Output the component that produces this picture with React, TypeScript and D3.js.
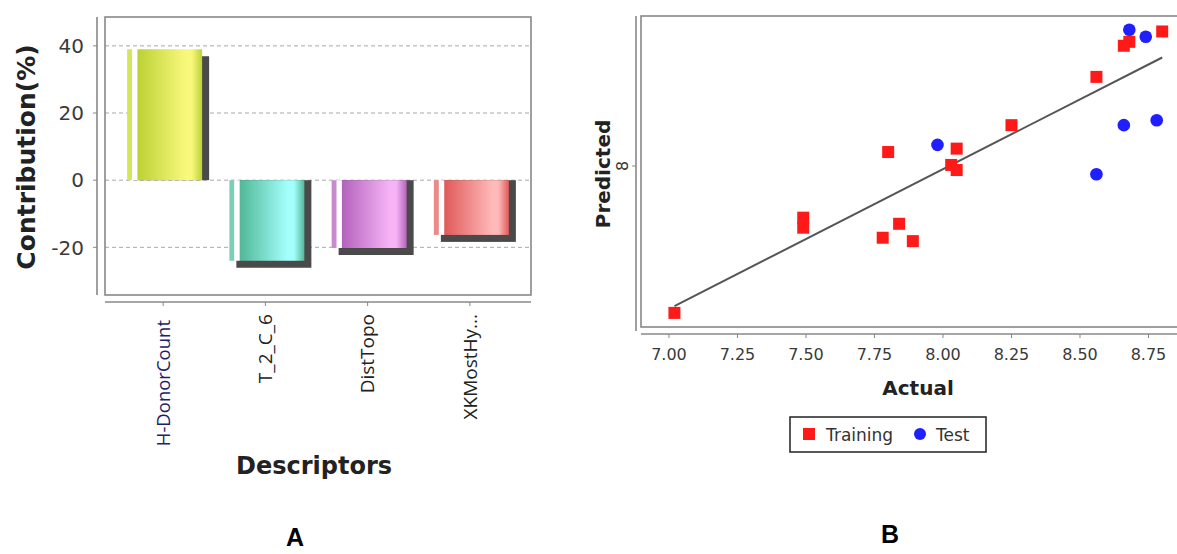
import * as d3 from 'd3';
import { useEffect, useRef } from 'react';

// Panel A: descriptor contributions
const descriptors = ['H-DonorCount', 'T_2_C_6', 'DistTopo', 'XKMostHy...'];
const contributions = [39.0, -24.0, -20.2, -16.3];
const contributionTicks = [-20, 0, 20, 40];

// Panel B: actual vs predicted
const trainingActual = [7.02, 7.49, 7.49, 7.8, 7.78, 7.84, 7.89, 8.03, 8.05, 8.05, 8.25, 8.56, 8.66, 8.68, 8.8];
const trainingPredicted = [7.136, 7.696, 7.637, 8.082, 7.578, 7.66, 7.558, 8.006, 8.102, 7.976, 8.24, 8.524, 8.707, 8.73, 8.791];
const testActual = [7.98, 8.56, 8.66, 8.68, 8.74, 8.78];
const testPredicted = [8.124, 7.951, 8.24, 8.801, 8.76, 8.269];
const fitActual = [7.02, 8.8];
const fitPredicted = [7.176, 8.638];
const actualTicks = [7.0, 7.25, 7.5, 7.75, 8.0, 8.25, 8.5, 8.75];
const predictedTicks = [8];

const barBase = ['#bcd234', '#52b898', '#b463bd', '#e05a5a'];
const barLight = ['#f8f87c', '#a4fffc', '#f6b4f6', '#ffb9b9'];
const barStrip = ['#d4e65a', '#7ccfb6', '#c98ad0', '#ec8a8a'];

const W = 1177;
const H = 554;
const axisGrey = '#888';
const sans = 'DejaVu Sans, sans-serif';

export default function App() {
    const svgRef = useRef(null);

    useEffect(() => {
        const svg = d3.select(svgRef.current);
        svg.selectAll('*').remove();
        const defs = svg.append('defs');

        // ---------- A ----------
        const box = { left: 105, top: 17, right: 531, bottom: 295 };
        const x = d3.scaleBand().domain(descriptors).range([112, 521]);
        const y = d3.scaleLinear().domain([-34.2, 48.6]).range([box.bottom, box.top]);
        const cx = (d) => x(d) + x.bandwidth() / 2;

        const a = svg.append('g');

        // grid
        a.selectAll('.grid')
            .data(contributionTicks)
            .join('line')
            .attr('x1', box.left)
            .attr('x2', box.right)
            .attr('y1', (d) => y(d))
            .attr('y2', (d) => y(d))
            .attr('stroke', '#a8a8a8')
            .attr('stroke-dasharray', '4,3');

        descriptors.forEach((name, i) => {
            const v = contributions[i];
            const x0 = cx(name) - 36;
            const bw = 75;
            const yTop = y(Math.max(v, 0));
            const yBot = y(Math.min(v, 0));
            const off = 7;

            const g = defs
                .append('linearGradient')
                .attr('id', `bar${i}`)
                .attr('x1', 0)
                .attr('x2', 1)
                .attr('y1', 0)
                .attr('y2', 0);
            [
                [0, barStrip[i]],
                [0.06, barStrip[i]],
                [0.07, '#ffffff'],
                [0.13, '#ffffff'],
                [0.145, barBase[i]],
                [0.78, barLight[i]],
                [0.86, barLight[i]],
                [1, barBase[i]],
            ].forEach(([o, c]) => g.append('stop').attr('offset', o).attr('stop-color', c));

            // shadow, clipped at the zero line
            const sTop = v >= 0 ? yTop + off : y(0);
            const sBot = v >= 0 ? y(0) : yBot + off;
            a.append('rect')
                .attr('x', x0 + off)
                .attr('y', sTop)
                .attr('width', bw)
                .attr('height', sBot - sTop)
                .attr('fill', '#4a4a4a');

            a.append('rect')
                .attr('x', x0)
                .attr('y', yTop)
                .attr('width', bw)
                .attr('height', yBot - yTop)
                .attr('fill', `url(#bar${i})`);
        });

        // box + axes
        a.append('rect')
            .attr('x', box.left)
            .attr('y', box.top)
            .attr('width', box.right - box.left)
            .attr('height', box.bottom - box.top)
            .attr('fill', 'none')
            .attr('stroke', axisGrey)
            .attr('stroke-width', 1.6);
        a.append('line')
            .attr('x1', 97).attr('x2', 97)
            .attr('y1', box.top).attr('y2', box.bottom)
            .attr('stroke', axisGrey).attr('stroke-width', 1.6);
        a.append('line')
            .attr('x1', box.left).attr('x2', box.right)
            .attr('y1', 302).attr('y2', 302)
            .attr('stroke', axisGrey).attr('stroke-width', 1.6);

        contributionTicks.forEach((t) => {
            a.append('line')
                .attr('x1', 93).attr('x2', 97)
                .attr('y1', y(t)).attr('y2', y(t))
                .attr('stroke', axisGrey);
            a.append('text')
                .attr('x', 84)
                .attr('y', y(t))
                .attr('dy', '0.36em')
                .attr('text-anchor', 'end')
                .attr('font-family', sans)
                .attr('font-size', 20)
                .attr('fill', '#3a3a3a')
                .text(t);
        });

        descriptors.forEach((name, i) => {
            a.append('line')
                .attr('x1', cx(name)).attr('x2', cx(name))
                .attr('y1', 302).attr('y2', 306)
                .attr('stroke', axisGrey);
            a.append('text')
                .attr('transform', `translate(${cx(name)},${i === 0 ? 320 : 314}) rotate(-90)`)
                .attr('dy', '0.35em')
                .attr('text-anchor', 'end')
                .attr('font-family', 'Open Sans, sans-serif')
                .attr('font-size', i === 0 ? 18.5 : 19)
                .attr('font-weight', 500)
                .attr('fill', i === 0 ? '#1c2266' : '#222')
                .text(name);
        });

        a.append('text')
            .attr('transform', 'translate(35,157) rotate(-90)')
            .attr('text-anchor', 'middle')
            .attr('font-family', sans)
            .attr('font-weight', 'bold')
            .attr('font-size', 25)
            .attr('fill', '#222')
            .text('Contribution(%)');
        a.append('text')
            .attr('x', 314)
            .attr('y', 474)
            .attr('text-anchor', 'middle')
            .attr('font-family', sans)
            .attr('font-weight', 'bold')
            .attr('font-size', 24)
            .attr('fill', '#222')
            .text('Descriptors');
        a.append('text')
            .attr('x', 295)
            .attr('y', 546)
            .attr('text-anchor', 'middle')
            .attr('font-family', 'Liberation Sans, sans-serif')
            .attr('font-weight', 'bold')
            .attr('font-size', 25)
            .text('A');

        // ---------- B ----------
        const bx = d3.scaleLinear().domain([6.898, 9.0]).range([641, 1217]);
        const by = d3.scaleLinear().domain([7.053, 8.882]).range([327, 16]);
        const b = svg.append('g');

        b.append('rect')
            .attr('x', 641).attr('y', 16)
            .attr('width', 640).attr('height', 311)
            .attr('fill', 'none')
            .attr('stroke', axisGrey)
            .attr('stroke-width', 1.6);
        b.append('line')
            .attr('x1', 636).attr('x2', 636)
            .attr('y1', 16).attr('y2', 331)
            .attr('stroke', axisGrey).attr('stroke-width', 1.6);
        b.append('line')
            .attr('x1', 641).attr('x2', W)
            .attr('y1', 334).attr('y2', 334)
            .attr('stroke', axisGrey).attr('stroke-width', 1.6);

        actualTicks.forEach((t) => {
            b.append('line')
                .attr('x1', bx(t)).attr('x2', bx(t))
                .attr('y1', 334).attr('y2', 338)
                .attr('stroke', axisGrey);
            b.append('text')
                .attr('x', bx(t))
                .attr('y', 360)
                .attr('text-anchor', 'middle')
                .attr('font-family', sans)
                .attr('font-size', 16)
                .attr('fill', '#3a3a3a')
                .text(t.toFixed(2));
        });
        predictedTicks.forEach((t) => {
            b.append('line')
                .attr('x1', 632).attr('x2', 636)
                .attr('y1', by(t)).attr('y2', by(t))
                .attr('stroke', axisGrey);
            b.append('text')
                .attr('transform', `translate(628,${by(t)}) rotate(-90)`)
                .attr('text-anchor', 'middle')
                .attr('font-family', sans)
                .attr('font-size', 16)
                .attr('fill', '#3a3a3a')
                .text(t);
        });

        const line = d3
            .line()
            .x((d) => bx(d[0]))
            .y((d) => by(d[1]));
        b.append('path')
            .datum(fitActual.map((v, i) => [v, fitPredicted[i]]))
            .attr('d', line)
            .attr('fill', 'none')
            .attr('stroke', '#555')
            .attr('stroke-width', 2);

        b.selectAll('.train')
            .data(trainingActual.map((v, i) => [v, trainingPredicted[i]]))
            .join('rect')
            .attr('x', (d) => bx(d[0]) - 6)
            .attr('y', (d) => by(d[1]) - 6)
            .attr('width', 12)
            .attr('height', 12)
            .attr('fill', '#ff1a1a');
        b.selectAll('.test')
            .data(testActual.map((v, i) => [v, testPredicted[i]]))
            .join('circle')
            .attr('cx', (d) => bx(d[0]))
            .attr('cy', (d) => by(d[1]))
            .attr('r', 6.3)
            .attr('fill', '#1f1fff');

        b.append('text')
            .attr('transform', 'translate(610,174) rotate(-90)')
            .attr('text-anchor', 'middle')
            .attr('font-family', sans)
            .attr('font-weight', 'bold')
            .attr('font-size', 20)
            .attr('fill', '#222')
            .text('Predicted');
        b.append('text')
            .attr('x', 918)
            .attr('y', 395)
            .attr('text-anchor', 'middle')
            .attr('font-family', sans)
            .attr('font-weight', 'bold')
            .attr('font-size', 20)
            .attr('fill', '#222')
            .text('Actual');

        // legend
        b.append('rect')
            .attr('x', 790).attr('y', 417)
            .attr('width', 196).attr('height', 35)
            .attr('fill', '#fff')
            .attr('stroke', '#222')
            .attr('stroke-width', 1.5);
        b.append('rect')
            .attr('x', 803).attr('y', 428)
            .attr('width', 12).attr('height', 12)
            .attr('fill', '#ff1a1a');
        b.append('text')
            .attr('x', 826).attr('y', 441)
            .attr('font-family', sans).attr('font-size', 17)
            .attr('fill', '#333')
            .text('Training');
        b.append('circle')
            .attr('cx', 920).attr('cy', 434).attr('r', 6)
            .attr('fill', '#1f1fff');
        b.append('text')
            .attr('x', 936).attr('y', 441)
            .attr('font-family', sans).attr('font-size', 17)
            .attr('fill', '#333')
            .text('Test');

        b.append('text')
            .attr('x', 890)
            .attr('y', 543)
            .attr('text-anchor', 'middle')
            .attr('font-family', 'Liberation Sans, sans-serif')
            .attr('font-weight', 'bold')
            .attr('font-size', 25)
            .text('B');
    }, []);

    return (
        <svg
            ref={svgRef}
            width={W}
            height={H}
            style={{ position: 'absolute', left: 0, top: 0, background: '#fff' }}
        />
    );
}
